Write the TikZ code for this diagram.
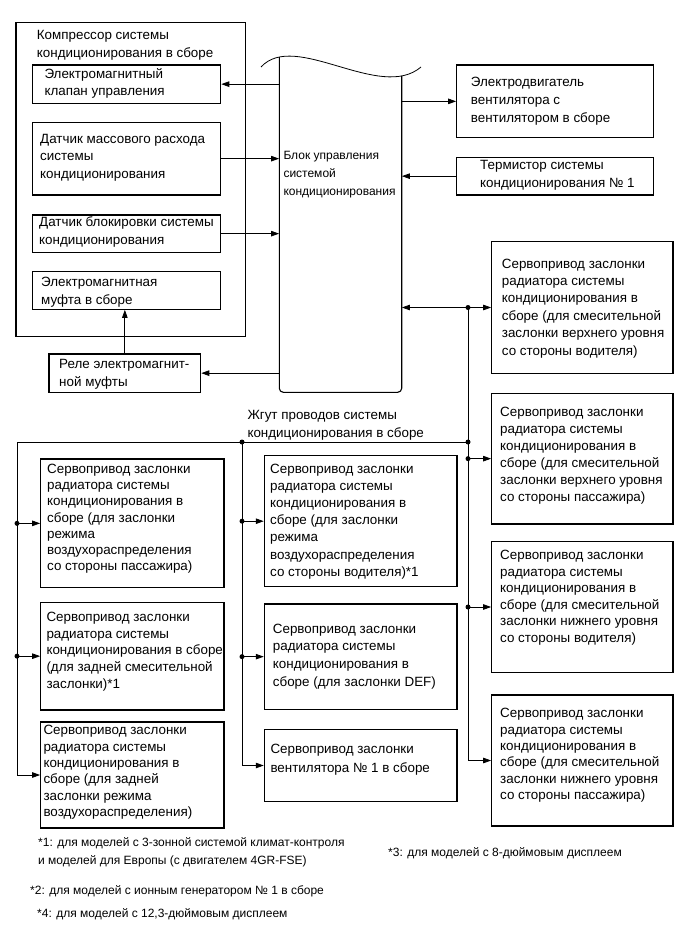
\documentclass[tikz,border=0pt]{standalone}
\usepackage{fontspec}
\setmainfont{Liberation Sans}
\usetikzlibrary{arrows.meta,fit}
\tikzset{
  bx/.style={draw, line width=1.1pt, inner sep=0pt},
  tx/.style={anchor=north west, inner sep=0pt, align=left, font=\fontsize{13.4}{#1}\selectfont},
  fn/.style={anchor=north west, inner sep=0pt, align=left, font=\fontsize{12}{18}\selectfont},
  ln/.style={line width=0.8pt},
  arr/.style={line width=0.8pt, -{Triangle[length=8pt,width=5.5pt]}},
  arrb/.style={line width=0.8pt, {Triangle[length=8pt,width=5.5pt]}-{Triangle[length=8pt,width=5.5pt]}},
  dot/.style={circle, fill, inner sep=0pt, minimum size=5pt},
}
\newcommand\bxtxt[5]{\node[tx=#4] (#1) at (#2,{#3+4.6-0.7*#4}) {\strut #5};}
\begin{document}
\begin{tikzpicture}[x=1pt,y=-1pt]
\useasboundingbox (0,0) rectangle (689,950);
% ---------- compressor group ----------
\node[bx, fit={(16,22.7) (245.7,336.7)}] (comp) {};
\bxtxt{compt}{36.7}{35}{17.5}{Компрессор системы\\кондиционирования в сборе}
\node[bx, fit={(32.3,65) (220.7,103.3)}] (A) {};
\bxtxt{At}{44.3}{73.3}{17.5}{Электромагнитный\\клапан управления}
\node[bx, fit={(32.3,122.3) (220.7,195)}] (B) {};
\bxtxt{Bt}{40}{138.3}{17.5}{Датчик массового расхода\\системы\\кондиционирования}
\node[bx, fit={(32.3,215) (220.7,252.3)}] (C) {};
\bxtxt{Ct}{39}{221.7}{17.5}{Датчик блокировки системы\\кондиционирования}
\node[bx, fit={(32.3,271.7) (220.7,309.3)}] (D) {};
\bxtxt{Dt}{41}{281.7}{17.5}{Электромагнитная\\муфта в сборе}
\node[bx, fit={(49,354) (200.7,392.3)}] (relay) {};
\bxtxt{relayt}{59}{363.3}{18.5}{Реле электромагнит-\\ной муфты}
% ---------- control unit ----------
\node[inner sep=0pt, fit={(279.3,57.2) (401.7,392.3)}] (ecu) {};
\draw[line width=1.1pt, rounded corners=4pt] (279.3,57.2) -- (279.3,392.3) -- (401.7,392.3) -- (401.7,75.8);
\draw[line width=0.8pt] (261,67) .. controls (295,30) and (380,102) .. (421,67);
\node[anchor=north west, inner sep=0pt, align=left, font=\fontsize{12}{18}\selectfont] (ecut) at (283.3,{155+4.2-12.6}) {\strut Блок управления\\системой\\кондиционирования};
% ---------- right top ----------
\node[bx, fit={(456.7,65) (653.3,137.7)}] (fan) {};
\bxtxt{fant}{470.7}{81.7}{17.8}{Электродвигатель\\вентилятора с\\вентилятором в сборе}
\node[bx, fit={(456.7,157.3) (653.3,195)}] (therm) {};
\bxtxt{thermt}{480}{165}{17.7}{Термистор системы\\кондиционирования № 1}
% ---------- right column ----------
\node[bx, fit={(491.7,241.7) (673,373.3)}] (R1) {};
\bxtxt{R1t}{501.7}{263.3}{17.4}{Сервопривод заслонки\\радиатора системы\\кондиционирования в\\сборе (для смесительной\\заслонки верхнего уровня\\со стороны водителя)}
\node[bx, fit={(491.7,393.3) (673,524)}] (R2) {};
\bxtxt{R2t}{500}{411.7}{17}{Сервопривод заслонки\\радиатора системы\\кондиционирования в\\сборе (для смесительной\\заслонки верхнего уровня\\со стороны пассажира)}
\node[bx, fit={(491.7,541.7) (673,672.3)}] (R3) {};
\bxtxt{R3t}{500}{555}{16.5}{Сервопривод заслонки\\радиатора системы\\кондиционирования в\\сборе (для смесительной\\заслонки нижнего уровня\\со стороны водителя)}
\node[bx, fit={(491.7,695) (673,826)}] (R4) {};
\bxtxt{R4t}{500}{713}{16.3}{Сервопривод заслонки\\радиатора системы\\кондиционирования в\\сборе (для смесительной\\заслонки нижнего уровня\\со стороны пассажира)}
% ---------- harness ----------
\bxtxt{harn}{247.3}{415}{17.5}{Жгут проводов системы\\кондиционирования в сборе}
% ---------- left column ----------
\node[bx, fit={(40.7,459) (224,587.7)}] (L1) {};
\bxtxt{L1t}{47}{468.3}{16.3}{Сервопривод заслонки\\радиатора системы\\кондиционирования в\\сборе (для заслонки\\режима\\воздухораспределения\\со стороны пассажира)}
\node[bx, fit={(40.7,602.3) (224,710)}] (L2) {};
\bxtxt{L2t}{46.3}{616.7}{16.7}{Сервопривод заслонки\\радиатора системы\\кондиционирования в сборе\\(для задней смесительной\\заслонки)*1}
\node[bx, fit={(40.7,722) (224,828)}] (L3) {};
\bxtxt{L3t}{43.3}{730}{16.3}{Сервопривод заслонки\\радиатора системы\\кондиционирования в\\сборе (для задней\\заслонки режима\\воздухораспределения)}
% ---------- middle column ----------
\node[bx, fit={(264.3,455.7) (457,586.7)}] (M1) {};
\bxtxt{M1t}{270}{468.3}{17.2}{Сервопривод заслонки\\радиатора системы\\кондиционирования в\\сборе (для заслонки\\режима\\воздухораспределения\\со стороны водителя)*1}
\node[bx, fit={(264.3,604) (457,709.3)}] (M2) {};
\bxtxt{M2t}{272.7}{628.3}{17.8}{Сервопривод заслонки\\радиатора системы\\кондиционирования в\\сборе (для заслонки DEF)}
\node[bx, fit={(264.3,729.3) (457,801.7)}] (M3) {};
\bxtxt{M3t}{270.3}{748.3}{19}{Сервопривод заслонки\\вентилятора № 1 в сборе}
% ---------- connectors, top ----------
\draw[arr] (ecu.west |- A.east) -- (A.east);
\draw[arr] (B.east) -- (ecu.west |- B.east);
\draw[arr] (C.east) -- (ecu.west |- C.east);
\draw[arr] (ecu.west |- relay.east) -- (relay.east);
\draw[arr] (relay.north) -- (relay.north |- D.south);
\draw[arr] (ecu.east |- fan.west) -- (fan.west);
\draw[arr] (therm.west) -- (ecu.east |- therm.west);
% ---------- buses ----------
\coordinate (lbus) at (17,442);
\coordinate (mbus) at (242,442);
\coordinate (rbus) at (468,442);
\draw[arrb] (ecu.east |- R1.west) -- (R1.west);
\draw[arr] (rbus |- R1.west) -- (rbus |- R4.west) -- (R4.west);
\draw[arr] (rbus |- R2.west) -- (R2.west);
\draw[arr] (rbus |- R3.west) -- (R3.west);
\draw[arr] (rbus) -- (lbus) -- (lbus |- L3.west) -- (L3.west);
\draw[arr] (lbus |- L1.west) -- (L1.west);
\draw[arr] (lbus |- L2.west) -- (L2.west);
\draw[arr] (mbus) -- (mbus |- M3.west) -- (M3.west);
\draw[arr] (mbus |- M1.west) -- (M1.west);
\draw[arr] (mbus |- M2.west) -- (M2.west);
\node[dot] (d1) at (rbus |- R1.west) {};
\node[dot] (d2) at (rbus) {};
\node[dot] (d3) at (rbus |- R2.west) {};
\node[dot] (d4) at (rbus |- R3.west) {};
\node[dot] (d5) at (mbus) {};
\node[dot] (d6) at (mbus |- M1.west) {};
\node[dot] (d7) at (mbus |- M2.west) {};
\node[dot] (d8) at (lbus |- L1.west) {};
\node[dot] (d9) at (lbus |- L2.west) {};
% ---------- footnotes ----------
\node[fn] (f1) at (38,{842-8.4}) {\strut *1: для моделей с 3-зонной системой климат-контроля\\и моделей для Европы (с двигателем 4GR-FSE)};
\node[fn] (f3) at (388,{852-8.4}) {\strut *3: для моделей с 8-дюймовым дисплеем};
\node[fn] (f2) at (30,{890-8.4}) {\strut *2: для моделей с ионным генератором № 1 в сборе};
\node[fn] (f4) at (37,{913-8.4}) {\strut *4: для моделей с 12,3-дюймовым дисплеем};
\end{tikzpicture}
\end{document}
